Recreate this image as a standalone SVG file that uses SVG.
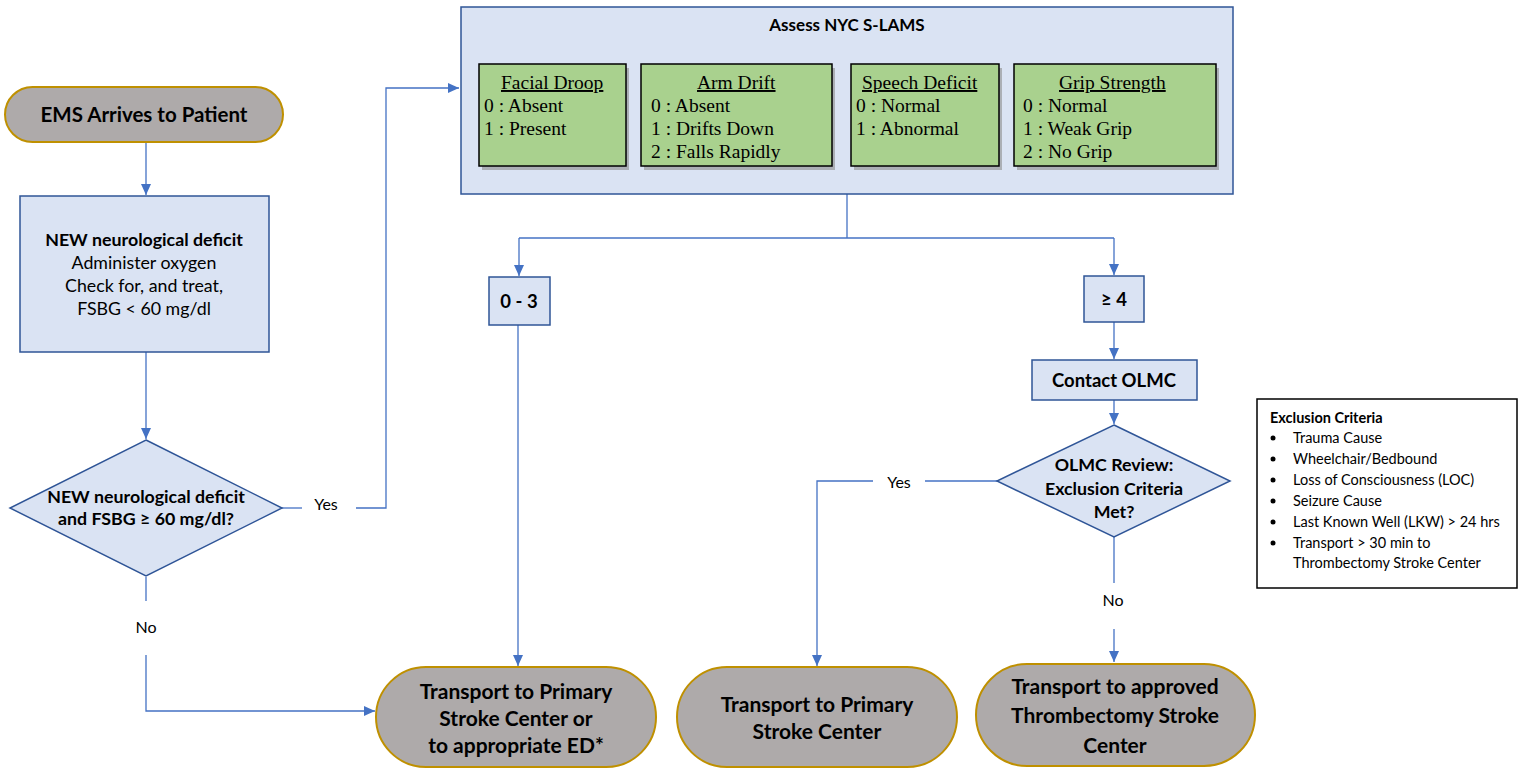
<svg xmlns="http://www.w3.org/2000/svg" width="1526" height="770" viewBox="0 0 1526 770">
<defs>
<style>
.pill{fill:#aeaaaa;stroke:#bf9000;stroke-width:2}
.blue{fill:#dae3f3;stroke:#2f5597;stroke-width:1.5}
.green{fill:#a9d18e;stroke:#000;stroke-width:1.5}
.shadow{fill:#8c8c8c;opacity:0.6}
.conn{fill:none;stroke:#4472c4;stroke-width:1.3}
.t{font-family:Lato,"Liberation Sans",sans-serif;fill:#000;text-anchor:middle}
.b{font-weight:bold}
.s{font-family:"Liberation Serif","DejaVu Serif",serif;font-size:19.5px;fill:#000}
.lbl{font-family:Lato,"Liberation Sans",sans-serif;font-size:16px;fill:#000;text-anchor:middle}
.ex{font-family:Lato,"Liberation Sans",sans-serif;font-size:14.5px;fill:#000}
</style>
<marker id="arr" markerWidth="12" markerHeight="12" refX="11" refY="6" orient="auto" markerUnits="userSpaceOnUse">
<path d="M0,1 L11,6 L0,11 Z" fill="#4472c4"/>
</marker>
</defs>
<rect width="1526" height="770" fill="#fff"/>

<g id="connectors">
<path class="conn" d="M146,142 V195" marker-end="url(#arr)"/>
<path class="conn" d="M146,352 V439" marker-end="url(#arr)"/>
<path class="conn" d="M282,508 H302"/>
<path class="conn" d="M356,508 H386 V88 H459" marker-end="url(#arr)"/>
<path class="conn" d="M146,577 V601"/>
<path class="conn" d="M146,655 V711 H375" marker-end="url(#arr)"/>
<path class="conn" d="M847,194 V238"/>
<path class="conn" d="M519,238 H1114"/>
<path class="conn" d="M519,238 V276" marker-end="url(#arr)"/>
<path class="conn" d="M1114,238 V275" marker-end="url(#arr)"/>
<path class="conn" d="M518,325 V666" marker-end="url(#arr)"/>
<path class="conn" d="M1114,322 V359" marker-end="url(#arr)"/>
<path class="conn" d="M1114,400 V424" marker-end="url(#arr)"/>
<path class="conn" d="M997,481 H925"/>
<path class="conn" d="M873,481 H817 V666" marker-end="url(#arr)"/>
<path class="conn" d="M1114,537 V583"/>
<path class="conn" d="M1114,629 V662" marker-end="url(#arr)"/>
<text class="lbl" x="326" y="510">Yes</text>
<text class="lbl" x="146" y="633">No</text>
<text class="lbl" x="899" y="488">Yes</text>
<text class="lbl" x="1113" y="606">No</text>
</g>

<g id="ems">
<rect class="pill" x="5" y="87" width="278" height="55" rx="27.5"/>
<text class="t b" x="144" y="122" font-size="20.5">EMS Arrives to Patient</text>
</g>

<g id="neuro-box">
<rect class="blue" x="20" y="196" width="249" height="156"/>
<text class="t" x="144" font-size="17.8"><tspan class="b" x="144" y="246">NEW neurological deficit</tspan><tspan x="144" y="269">Administer oxygen</tspan><tspan x="144" y="292">Check for, and treat,</tspan><tspan x="144" y="315">FSBG &lt; 60 mg/dl</tspan></text>
</g>

<g id="decision1">
<path class="blue" d="M146,440 L282,508 L146,576 L10,508 Z"/>
<text class="t b" font-size="17.8"><tspan x="146" y="503">NEW neurological deficit</tspan><tspan x="146" y="525">and FSBG ≥ 60 mg/dl?</tspan></text>
</g>

<g id="slams">
<rect class="blue" x="461" y="7" width="772" height="187"/>
<text class="t b" x="847" y="31" font-size="17">Assess NYC S-LAMS</text>
<rect class="shadow" x="482" y="68" width="147" height="102"/>
<rect class="green" x="479" y="64" width="147" height="102"/>
<text class="s"><tspan x="501" y="89" text-decoration="underline">Facial Droop</tspan><tspan x="484" y="112">0 : Absent</tspan><tspan x="484" y="135">1 : Present</tspan></text>
<rect class="shadow" x="644" y="68" width="191" height="102"/>
<rect class="green" x="641" y="64" width="191" height="102"/>
<text class="s"><tspan x="697" y="89" text-decoration="underline">Arm Drift</tspan><tspan x="651" y="112">0 : Absent</tspan><tspan x="651" y="135">1 : Drifts Down</tspan><tspan x="651" y="158">2 : Falls Rapidly</tspan></text>
<rect class="shadow" x="854" y="68" width="148" height="102"/>
<rect class="green" x="851" y="64" width="148" height="102"/>
<text class="s"><tspan x="862" y="89" text-decoration="underline">Speech Deficit</tspan><tspan x="856" y="112">0 : Normal</tspan><tspan x="856" y="135">1 : Abnormal</tspan></text>
<rect class="shadow" x="1017" y="68" width="202" height="102"/>
<rect class="green" x="1014" y="64" width="202" height="102"/>
<text class="s"><tspan x="1059" y="89" text-decoration="underline">Grip Strength</tspan><tspan x="1023" y="112">0 : Normal</tspan><tspan x="1023" y="135">1 : Weak Grip</tspan><tspan x="1023" y="158">2 : No Grip</tspan></text>
</g>

<g id="score-low">
<rect class="blue" x="489" y="277" width="61" height="48"/>
<text class="t b" x="519" y="308" font-size="18.5">0 - 3</text>
</g>

<g id="score-high">
<rect class="blue" x="1084" y="276" width="60" height="46"/>
<text class="t b" x="1114" y="306" font-size="18.5">≥ 4</text>
</g>

<g id="contact-olmc">
<rect class="blue" x="1032" y="360" width="165" height="40"/>
<text class="t b" x="1114" y="387" font-size="18.5">Contact OLMC</text>
</g>

<g id="decision2">
<path class="blue" d="M1114,425 L1230,481 L1114,537 L997,481 Z"/>
<text class="t b" font-size="17.8"><tspan x="1114" y="471">OLMC Review:</tspan><tspan x="1114" y="495">Exclusion  Criteria</tspan><tspan x="1114" y="518">Met?</tspan></text>
</g>

<g id="transport-primary-ed">
<rect class="pill" x="376" y="667" width="280" height="100" rx="50"/>
<text class="t b" font-size="21"><tspan x="516" y="699">Transport to Primary</tspan><tspan x="516" y="726">Stroke Center or</tspan><tspan x="516" y="753">to appropriate ED*</tspan></text>
</g>

<g id="transport-primary">
<rect class="pill" x="677" y="667" width="280" height="100" rx="50"/>
<text class="t b" font-size="21"><tspan x="817" y="712">Transport to Primary</tspan><tspan x="817" y="739">Stroke Center</tspan></text>
</g>

<g id="transport-thrombectomy">
<rect class="pill" x="976" y="664" width="279" height="102" rx="51"/>
<text class="t b" font-size="21"><tspan x="1115" y="694">Transport to approved</tspan><tspan x="1115" y="723">Thrombectomy Stroke</tspan><tspan x="1115" y="753">Center</tspan></text>
</g>

<g id="exclusion-criteria">
<rect x="1257" y="399" width="260" height="189" fill="#fff" stroke="#000" stroke-width="1.5"/>
<text class="ex b" x="1270" y="423" font-size="17">Exclusion Criteria</text>
<g fill="#000">
<circle cx="1273" cy="438" r="2.5"/><circle cx="1273" cy="459" r="2.5"/><circle cx="1273" cy="480" r="2.5"/><circle cx="1273" cy="501" r="2.5"/><circle cx="1273" cy="522" r="2.5"/><circle cx="1273" cy="543" r="2.5"/>
</g>
<text class="ex"><tspan x="1293" y="443">Trauma Cause</tspan><tspan x="1293" y="464">Wheelchair/Bedbound</tspan><tspan x="1293" y="485">Loss of Consciousness (LOC)</tspan><tspan x="1293" y="506">Seizure Cause</tspan><tspan x="1293" y="527">Last Known Well (LKW) &gt; 24 hrs</tspan><tspan x="1293" y="548">Transport &gt; 30 min to</tspan><tspan x="1293" y="568">Thrombectomy Stroke Center</tspan></text>
</g>
</svg>
